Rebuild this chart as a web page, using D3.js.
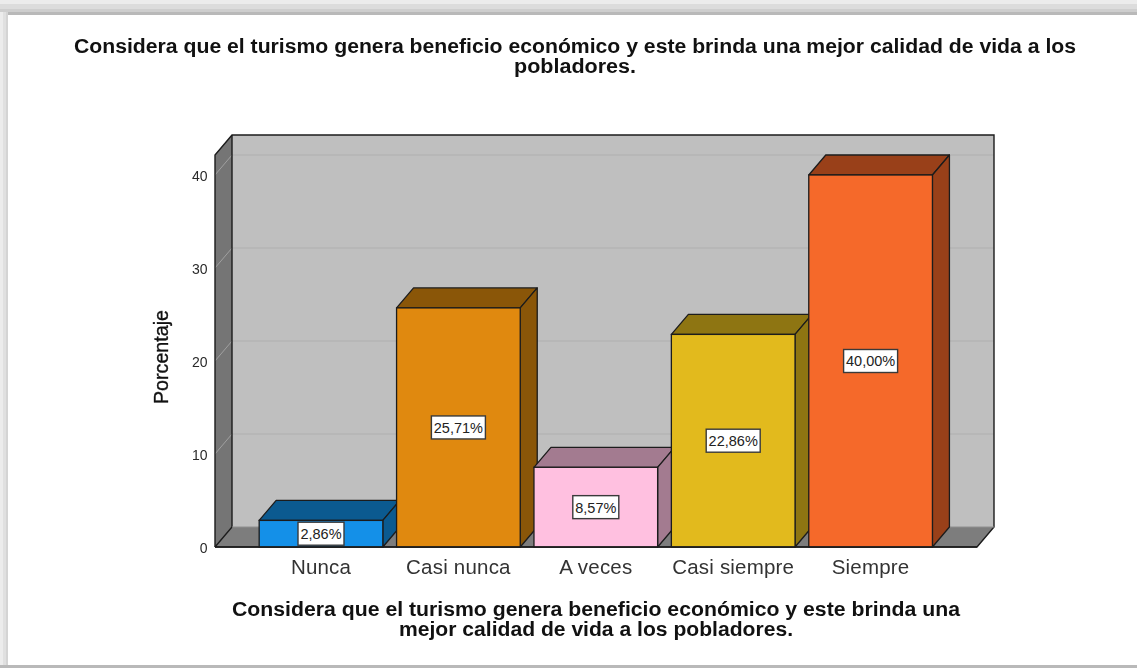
<!DOCTYPE html>
<html><head><meta charset="utf-8">
<script src="https://cdn.jsdelivr.net/npm/d3@7"></script>
<style>html,body{margin:0;padding:0;background:#fff}svg{display:block}text{font-family:"Liberation Sans",Arial,sans-serif}#chart{filter:blur(0.35px)}</style>
</head><body><svg id="c" width="1137" height="668"></svg>
<script>
const categories=["Nunca","Casi nunca","A veces","Casi siempre","Siempre"];
const percentages=[2.86,25.71,8.57,22.86,40.00];
const barLabels=["2,86%","25,71%","8,57%","22,86%","40,00%"];
const frontColors=["#1490e8","#e0890f","#ffc0e0","#e2ba1d","#f5692a"];
const topColors=["#0b5a90","#8a5608","#a37b90","#8e7512","#994019"];
const sideColors=["#0b5a90","#8a5608","#a37b90","#8e7512","#994019"];
const yTicks=[0,10,20,30,40];
const titleLines=["Considera que el turismo genera beneficio económico y este brinda una mejor calidad de vida a los","pobladores."];
const xTitleLines=["Considera que el turismo genera beneficio económico y este brinda una","mejor calidad de vida a los pobladores."];
const yTitle="Porcentaje";

const root=d3.select("#c");
const dx=17,dy=-20;
const y=d3.scaleLinear().domain([0,42.15]).range([547,155]);
const x=d3.scaleBand().domain(categories).range([252.3,939.3]).paddingInner(0.1).paddingOuter(0.05);
const L=215,R=977,ink="#1c1c1c";

// page frame
const frame=root.append("g");
[["#ececec",0,0,1137,4],["#dcdcdc",0,4,1137,5],["#cecece",0,9,1137,3],["#b9b9b9",0,12,1137,3]].forEach(r=>
  frame.append("rect").attr("x",r[1]).attr("y",r[2]).attr("width",r[3]).attr("height",r[4]).attr("fill",r[0]));
[["#ececec",0,3],["#e0e0e0",3,3],["#d4d4d4",6,2]].forEach(r=>
  frame.append("rect").attr("x",r[1]).attr("y",12).attr("width",r[2]).attr("height",654).attr("fill",r[0]));
frame.append("rect").attr("x",0).attr("y",665).attr("width",1137).attr("height",3).attr("fill","#b9b9b9");

const svg=root.append("g").attr("id","chart");

// chart box
const y0=y(0),yT=y(y.domain()[1]);
const pts=a=>a.map(p=>p.join(",")).join(" ");
svg.append("polygon").attr("points",pts([[L+dx,yT+dy],[R+dx,yT+dy],[R+dx,y0+dy],[L+dx,y0+dy]])).attr("fill","#bfbfbf");
svg.append("polygon").attr("points",pts([[L,yT],[L+dx,yT+dy],[L+dx,y0+dy],[L,y0]])).attr("fill","#757575");
svg.append("polygon").attr("points",pts([[L,y0],[L+dx,y0+dy],[R+dx,y0+dy],[R,y0]])).attr("fill","#7d7d7d");

// gridlines
const grid=svg.append("g");
yTicks.slice(1).forEach(t=>{
  const yy=y(t);
  grid.append("line").attr("x1",L+dx).attr("x2",R+dx).attr("y1",yy+dy).attr("y2",yy+dy).attr("stroke","#b0b0b0").attr("stroke-width",1.2);
  grid.append("line").attr("x1",L).attr("x2",L+dx).attr("y1",yy).attr("y2",yy+dy).attr("stroke","#a0a0a0").attr("stroke-width",1);
});

// box outlines
const outline=svg.append("g").attr("fill","none").attr("stroke",ink).attr("stroke-width",1.4);
outline.append("path").attr("d",`M${L},${y0}V${yT}L${L+dx},${yT+dy}H${R+dx}V${y0+dy}L${R},${y0}H${L}`);
outline.append("path").attr("d",`M${L+dx},${yT+dy}V${y0+dy}L${L},${y0}`);
outline.append("path").attr("d",`M${L+dx},${y0+dy}H${R+dx}`).attr("stroke","#8f8f8f").attr("stroke-width",1);

// bars
const bars=svg.append("g").selectAll("g").data(categories).join("g");
const bw=x.bandwidth();
bars.append("polygon").attr("points",(c,i)=>{const a=x(c),t=y(percentages[i]);return pts([[a,t],[a+dx,t+dy],[a+bw+dx,t+dy],[a+bw,t]]);})
  .attr("fill",(c,i)=>topColors[i]).attr("stroke",ink).attr("stroke-width",1.3).attr("stroke-linejoin","round");
bars.append("polygon").attr("points",(c,i)=>{const a=x(c)+bw,t=y(percentages[i]);return pts([[a,t],[a+dx,t+dy],[a+dx,y0+dy],[a,y0]]);})
  .attr("fill",(c,i)=>sideColors[i]).attr("stroke",ink).attr("stroke-width",1.3).attr("stroke-linejoin","round");
bars.append("rect").attr("x",c=>x(c)).attr("y",(c,i)=>y(percentages[i])).attr("width",bw).attr("height",(c,i)=>y0-y(percentages[i]))
  .attr("fill",(c,i)=>frontColors[i]).attr("stroke",ink).attr("stroke-width",1.3);

// baseline
svg.append("line").attr("x1",L).attr("x2",R).attr("y1",y0).attr("y2",y0).attr("stroke",ink).attr("stroke-width",1.6);

// bar labels
const lab=svg.append("g").selectAll("g").data(categories).join("g")
  .attr("transform",(c,i)=>`translate(${x(c)+bw/2},${(y(percentages[i])+y0)/2})`);
lab.append("rect").attr("x",(c,i)=>barLabels[i].length>5?-27:-23).attr("y",-11.5).attr("width",(c,i)=>barLabels[i].length>5?54:46).attr("height",23)
  .attr("fill","#fff").attr("stroke","#3a3a3a").attr("stroke-width",1.4);
lab.append("text").attr("text-anchor","middle").attr("y",5.5).attr("font-size",14.5).attr("fill","#222").text((c,i)=>barLabels[i]);

// y axis
const yAxis=svg.append("g").attr("transform",`translate(${L-1},0)`).call(d3.axisLeft(y).tickValues(yTicks).tickSize(0).tickPadding(6.5));
yAxis.select(".domain").remove();
yAxis.selectAll("text").attr("font-size",14).attr("fill","#2a2a2a").attr("dy","0.37em").style("font-family",'"Liberation Sans"');

// x axis
const xAxis=svg.append("g").attr("transform",`translate(0,${y0})`).call(d3.axisBottom(x).tickSize(0).tickPadding(10));
xAxis.select(".domain").remove();
xAxis.selectAll("text").attr("font-size",20.5).attr("letter-spacing",0.2).attr("fill","#333").attr("y",27).attr("dy",0).style("font-family",'"Liberation Sans"');

// titles
const tt=svg.append("g").attr("text-anchor","middle").attr("font-weight","bold").attr("fill","#111");
const titleLen=[1002,122];
titleLines.forEach((s,i)=>tt.append("text").attr("x",575).attr("y",[52.5,72.5][i]).attr("font-size",20).attr("textLength",titleLen[i]).attr("lengthAdjust","spacingAndGlyphs").text(s));
const xTitleLen=[728,394];
xTitleLines.forEach((s,i)=>tt.append("text").attr("x",596).attr("y",[615.5,635.5][i]).attr("font-size",20).attr("textLength",xTitleLen[i]).attr("lengthAdjust","spacingAndGlyphs").text(s));
svg.append("text").attr("transform","translate(168,357) rotate(-90)").attr("text-anchor","middle").attr("font-size",20).attr("stroke","#111").attr("stroke-width",0.35).attr("fill","#111").attr("textLength",94).attr("lengthAdjust","spacingAndGlyphs").text(yTitle);
</script></body></html>
